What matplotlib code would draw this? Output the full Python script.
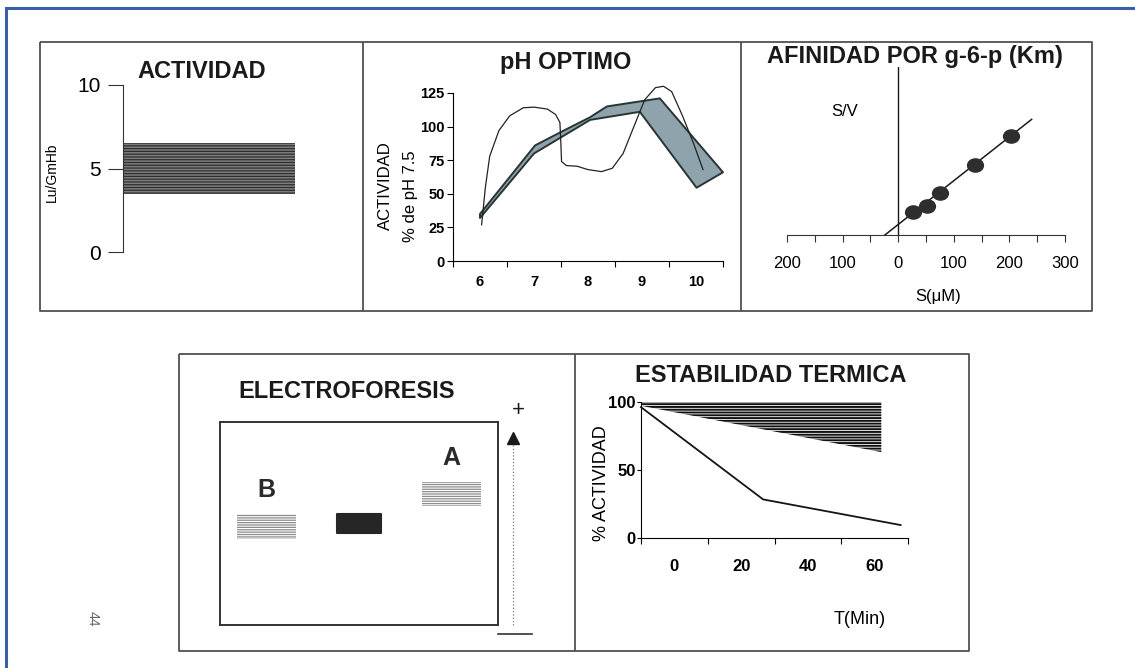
import matplotlib
matplotlib.use("Agg")
import matplotlib.pyplot as plt
from matplotlib.markers import MarkerStyle
from matplotlib.transforms import Affine2D
from matplotlib.ticker import FixedLocator, FixedFormatter, NullFormatter
import numpy as np

plt.rcParams['font.family'] = ['Liberation Sans', 'DejaVu Sans']
plt.rcParams['hatch.linewidth'] = 0.9

# -----------------------------
# Data
# -----------------------------
# Actividad (Lu/GmHb): normal range
act_ticks = [0, 5, 10]
act_low, act_high = 3.5, 6.5

# pH optimo: thin curve (variant) and shaded band (normal range)
ph_ticks = [6, 7, 8, 9, 10]
ph_yticks = [0, 25, 50, 75, 100, 125]
ph_curve_x = [6.03, 6.1, 6.18, 6.35, 6.55, 6.8, 7.0, 7.25, 7.4, 7.48, 7.5, 7.51,
              7.6, 7.8, 8.0, 8.25, 8.45, 8.65, 8.85, 9.05, 9.25, 9.4, 9.55,
              9.75, 9.95, 10.13]
ph_curve_y = [27, 55, 78, 97, 108, 114, 114.5, 113, 109, 103, 85, 74,
              71, 70.5, 68, 66.5, 69, 80, 100, 120, 129, 130, 126,
              108, 88, 68]
band_upper_x = [6.0, 7.02, 7.5, 8.04, 8.35, 9.33, 10.5]
band_upper_y = [35, 86, 96, 107, 115, 121, 66]
band_lower_x = [10.01, 8.96, 8.04, 7.5, 7.0, 6.0]
band_lower_y = [54.5, 111, 105, 92, 80, 32]

# Afinidad por g-6-p: Hanes plot S/V vs S
km_s = [27, 51, 76, 139, 202]
km_sv = [23, 29, 42, 70, 99]
km_line_x = [-24, 240]
km_slope = 0.438
km_xticks = list(range(-200, 301, 50))
km_xlabels = [-200, -100, 0, 100, 200, 300]

# Electroforesis: lanes and migration
band_names = ['B', '', 'A']
band_lane = [0.5, 1.5, 2.5]
band_mig = [48.4, 50.0, 64.4]

# Estabilidad termica
heat_xticks = [0, 20, 40, 60]
heat_yticks = [0, 50, 100]
wedge_t = [-10, 62]
wedge_low = [97, 63]
wedge_high = 100
decay_t = [-10, 26.6, 67.8]
decay_act = [96, 28.3, 9.5]

# -----------------------------
# Layout helpers (pixel coordinates)
# -----------------------------
W, H = 1135, 668
fig = plt.figure(figsize=(W / 100, H / 100), dpi=100)
fig.patch.set_facecolor('white')


def px_axes(left, top, right, bottom):
    return fig.add_axes([left / W, 1 - bottom / H, (right - left) / W, (bottom - top) / H])


ov = fig.add_axes([0, 0, 1, 1])
ov.set_xlim(0, W)
ov.set_ylim(H, 0)
ov.axis('off')
ov.patch.set_visible(False)

frame_kw = dict(color='#505050', lw=1.3, solid_capstyle='butt')
# outer page border
ov.plot([6, 6], [8, H], color='#3a5ea8', lw=2.2)
ov.plot([6, W], [8, 8], color='#3a5ea8', lw=2.2)
# top row frame
ov.plot([40, 1092, 1092, 40, 40], [42, 42, 311, 311, 42], **frame_kw)
ov.plot([363, 363], [42, 311], **frame_kw)
ov.plot([741, 741], [42, 311], **frame_kw)
# bottom row frame
ov.plot([179, 969, 969, 179, 179], [354, 354, 651, 651, 354], **frame_kw)
ov.plot([575, 575], [354, 651], **frame_kw)

title_kw = dict(fontsize=17, fontweight='bold', ha='center', va='center', color='#1a1a1a')

# -----------------------------
# 1. Actividad
# -----------------------------
ax1 = px_axes(123, 85, 295, 252)
ax1.bar(0.5, act_high - act_low, bottom=act_low, width=1.0,
        facecolor='#7e7e7e', edgecolor='#2e2e2e', linewidth=0, hatch='------')
ax1.set_xlim(0, 1)
ax1.set_ylim(0, 10)
for s in ['top', 'right', 'bottom']:
    ax1.spines[s].set_visible(False)
ax1.spines['left'].set_color('#333333')
ax1.set_xticks([])
ax1.set_yticks(act_ticks)
ax1.tick_params(axis='y', length=11, width=0.8, color='#333333', labelsize=15, pad=5)
ax1.patch.set_visible(False)
ov.text(52, 172, 'Lu/GmHb', rotation=90, fontsize=10, ha='center', va='center')
ov.text(202, 72, 'ACTIVIDAD', **title_kw)

# -----------------------------
# 2. pH optimo
# -----------------------------
ax2 = px_axes(453, 93, 723, 261)
band_x = np.concatenate([band_upper_x, band_lower_x])
band_y = np.concatenate([band_upper_y, band_lower_y])
ax2.fill(band_x, band_y, facecolor='#8ea3ab', edgecolor='#2a3434', linewidth=1.4,
         joinstyle='round', clip_on=False, zorder=2)
ax2.plot(ph_curve_x, ph_curve_y, color='#222222', lw=0.9, clip_on=False, zorder=3)
ax2.set_xlim(5.5, 10.5)
ax2.set_ylim(0, 125)
for s in ['top', 'right']:
    ax2.spines[s].set_visible(False)
ax2.xaxis.set_major_locator(FixedLocator(np.arange(5.5, 10.6, 1.0)))
ax2.xaxis.set_major_formatter(NullFormatter())
ax2.xaxis.set_minor_locator(FixedLocator(ph_ticks))
ax2.xaxis.set_minor_formatter(FixedFormatter([str(v) for v in ph_ticks]))
ax2.tick_params(axis='x', which='major', length=4, width=0.8)
ax2.tick_params(axis='x', which='minor', length=0, pad=10, labelsize=10.5)
ax2.set_yticks(ph_yticks)
ax2.tick_params(axis='y', length=4, width=0.8, labelsize=10.5, pad=2)
for lab in ax2.get_xticklabels(minor=True) + ax2.get_yticklabels():
    lab.set_fontweight('bold')
ax2.patch.set_visible(False)
ov.text(385, 186, 'ACTIVIDAD', rotation=90, fontsize=12, ha='center', va='center')
ov.text(410, 196, '% de pH 7.5', rotation=90, fontsize=12, ha='center', va='center')
ov.text(566, 62, 'pH OPTIMO', **title_kw)

# -----------------------------
# 3. Afinidad por g-6-p (Km)
# -----------------------------
ax3 = px_axes(787, 66.7, 1065, 235)
line_x = np.array(km_line_x)
ax3.plot(line_x, km_slope * (line_x - km_line_x[0]), color='#1a1a1a', lw=1.1, zorder=2)
ax3.axvline(0, color='#1a1a1a', lw=1.0)
oval = MarkerStyle('o', transform=Affine2D().scale(1.2, 1.0))
ax3.plot(km_s, km_sv, linestyle='none', marker=oval, markersize=9.5,
         color='#2e2e2e', zorder=3)
ax3.set_xlim(-200, 300)
ax3.set_ylim(0, 168.3)
for s in ['top', 'right', 'left']:
    ax3.spines[s].set_visible(False)
ax3.spines['bottom'].set_color('#333333')
ax3.set_yticks([])
ax3.xaxis.set_major_locator(FixedLocator(km_xticks))
ax3.xaxis.set_major_formatter(FixedFormatter(
    [str(abs(v)) if v in km_xlabels else '' for v in km_xticks]))
ax3.tick_params(axis='x', length=5, width=0.8, color='#333333', labelsize=12, pad=10)
ax3.patch.set_visible(False)
ov.text(845, 112, 'S/V', fontsize=12, ha='center', va='center')
ov.text(938, 297, 'S(\u03bcM)', fontsize=12, ha='center', va='center')
ov.text(915, 57, 'AFINIDAD POR g-6-p (Km)', **title_kw)

# -----------------------------
# 4. Electroforesis
# -----------------------------
ax4 = px_axes(220, 421.7, 498, 625)
band_w = [0.64, 0.47, 0.64]
band_h = [12.3, 9.2, 12.0]
for name, lane, mig, w, h in zip(band_names, band_lane, band_mig, band_w, band_h):
    if name:
        ax4.bar(lane, h, bottom=mig - h / 2, width=w, facecolor='white',
                edgecolor='#8c8c8c', linewidth=0, hatch='-------')
        ax4.annotate(name, (lane, mig + h / 2), xytext=(0, 24), textcoords='offset pixels',
                     ha='center', va='center', fontsize=18, fontweight='bold',
                     color='#2a2a2a')
    else:
        ax4.bar(lane, h, bottom=mig - h / 2, width=w, facecolor='#262626',
                edgecolor='#262626', linewidth=1.5, joinstyle='round')
ax4.set_xlim(0, 3)
ax4.set_ylim(0, 100)
ax4.set_xticks([])
ax4.set_yticks([])
for s in ax4.spines.values():
    s.set_color('#333333')
    s.set_linewidth(1.4)
ov.plot([513, 513], [625, 444], color='#777777', lw=0.9, linestyle=':')
ov.plot([513], [438], marker='^', markersize=9, color='#1a1a1a', linestyle='none')
ov.text(518, 411, '+', fontsize=16, ha='center', va='center', color='#1a1a1a')
ov.plot([498, 532], [634, 634], color='#333333', lw=1.2)
ov.text(347, 392, 'ELECTROFORESIS', **title_kw)
ov.text(93, 619, '44', rotation=-90, fontsize=10, color='#666666', ha='center', va='center')

# -----------------------------
# 5. Estabilidad termica
# -----------------------------
ax5 = px_axes(641, 401.7, 908, 538)
plt.rcParams['hatch.linewidth'] = 1.4
ax5.fill_between(wedge_t, wedge_low, wedge_high, facecolor='white', edgecolor='#111111',
                 linewidth=0, hatch='------')
ax5.plot(decay_t, decay_act, color='#151515', lw=1.3, clip_on=False)
ax5.set_xlim(-10, 70)
ax5.set_ylim(0, 100)
for s in ['top', 'right']:
    ax5.spines[s].set_visible(False)
ax5.xaxis.set_major_locator(FixedLocator([-10, 10, 30, 50, 70]))
ax5.xaxis.set_major_formatter(NullFormatter())
ax5.xaxis.set_minor_locator(FixedLocator(heat_xticks))
ax5.xaxis.set_minor_formatter(FixedFormatter([str(v) for v in heat_xticks]))
ax5.tick_params(axis='x', which='major', length=4, width=0.8)
ax5.tick_params(axis='x', which='minor', length=0, pad=15, labelsize=12)
ax5.set_yticks(heat_yticks)
ax5.tick_params(axis='y', length=3, width=0.8, labelsize=12, pad=1)
for lab in ax5.get_xticklabels(minor=True) + ax5.get_yticklabels():
    lab.set_fontweight('bold')
    lab.set_family(['Liberation Sans Narrow', 'Liberation Sans'])
ax5.patch.set_visible(False)
ov.text(602, 483, '% ACTIVIDAD', rotation=90, fontsize=13, ha='center', va='center')
ov.text(860, 620, 'T(Min)', fontsize=13, ha='center', va='center')
ov.text(771, 375, 'ESTABILIDAD TERMICA', **title_kw)

fig.savefig('out.png', dpi=100)
